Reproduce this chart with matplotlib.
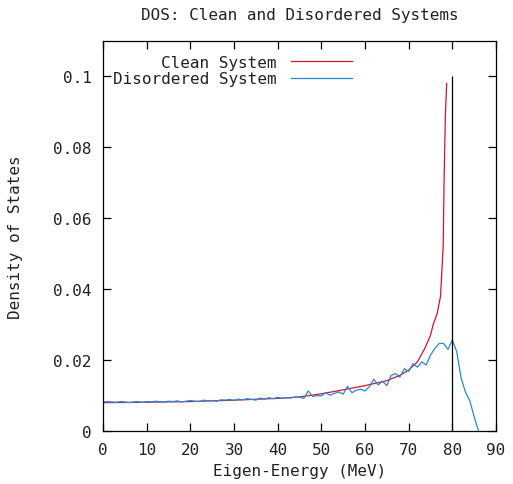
import numpy as np
import matplotlib
matplotlib.use("Agg")
import matplotlib.pyplot as plt

# clean system DOS
clean_e = [0, 10, 20, 30, 40, 45, 50, 55, 60, 65, 68, 70, 72, 73.7, 75.0,
           75.6, 76.5, 77.3, 77.6, 77.9, 78.1, 78.4, 78.7]
clean_dos = [0.0080, 0.0081, 0.0083, 0.0087, 0.0092, 0.0096, 0.0105, 0.0116,
             0.0128, 0.0142, 0.0157, 0.0172, 0.0195, 0.0233, 0.0270,
             0.0300, 0.0330, 0.0380, 0.0450, 0.0520, 0.0700, 0.0890, 0.0980]

# disordered system DOS, one point per MeV
dis_e = list(range(0, 87))
dis_dos = [0.0082, 0.0083, 0.0082, 0.0081, 0.0083, 0.0082, 0.0080, 0.0082,
           0.0083, 0.0081, 0.0083, 0.0082, 0.0084, 0.0083, 0.0082, 0.0084,
           0.0083, 0.0085, 0.0082, 0.0084, 0.0086, 0.0084, 0.0083, 0.0087,
           0.0085, 0.0086, 0.0084, 0.0088, 0.0087, 0.0089, 0.0086, 0.0090,
           0.0088, 0.0091, 0.0089, 0.0087, 0.0093, 0.0090, 0.0094, 0.0091,
           0.0095, 0.0092, 0.0094, 0.0093, 0.0096, 0.0095, 0.0092, 0.0113,
           0.0097, 0.0100, 0.0099, 0.0108, 0.0101, 0.0106, 0.0110, 0.0104,
           0.0126, 0.0108, 0.0115, 0.0118, 0.0113, 0.0125, 0.0146, 0.0130,
           0.0140, 0.0128, 0.0157, 0.0162, 0.0152, 0.0176, 0.0168, 0.0190,
           0.0180, 0.0195, 0.0186, 0.0214, 0.0233, 0.0247, 0.0247, 0.0230,
           0.0257, 0.0224, 0.0150, 0.0110, 0.0085, 0.0040, 0.0000]

# band edge marker
edge_e = 80
edge_h = 0.1

font = "DejaVu Sans Mono"
fs = 11.5
tc = "#222222"

fig = plt.figure(figsize=(5.13, 4.85), dpi=100)
ax = fig.add_axes([103/513, 1-432/485, 393/513, 390/485])

ax.plot(clean_e, clean_dos, color="#d4142e", lw=0.9, label="Clean System")
ax.plot(dis_e, dis_dos, color="#2a88d2", lw=0.9, label="Disordered System")
ax.vlines(edge_e, 0, edge_h, color="black", lw=0.9)

ax.set_xlim(0, 90)
ax.set_ylim(0, 0.11)
ax.set_xticks(np.arange(0, 91, 10))
ax.set_yticks([0, 0.02, 0.04, 0.06, 0.08, 0.1])
ax.set_yticklabels(["0", "0.02", "0.04", "0.06", "0.08", "0.1"])
ax.tick_params(direction="in", length=6, width=0.9, top=True, right=True,
               labelsize=fs, labelcolor=tc, pad=8)
for lab in ax.get_xticklabels() + ax.get_yticklabels():
    lab.set_family(font)
for s in ax.spines.values():
    s.set_linewidth(0.9)

ax.set_title("DOS: Clean and Disordered Systems", family=font, fontsize=fs,
             color=tc, pad=16)
ax.set_xlabel("Eigen-Energy (MeV)", family=font, fontsize=fs, color=tc,
              labelpad=4)
ax.set_ylabel("Density of States", family=font, fontsize=fs, color=tc,
              labelpad=22)

leg = ax.legend(loc="upper left", bbox_to_anchor=(0.005, 0.985),
                markerfirst=False, frameon=False,
                prop={"family": font, "size": fs}, handlelength=3.8,
                handletextpad=0.9, labelspacing=0.1,
                borderaxespad=0.2, borderpad=0.3)
for t in leg.get_texts():
    t.set_color(tc)
for col in leg._legend_box.get_children()[1].get_children():
    col.align = "right"

fig.savefig("out.png", dpi=100)
